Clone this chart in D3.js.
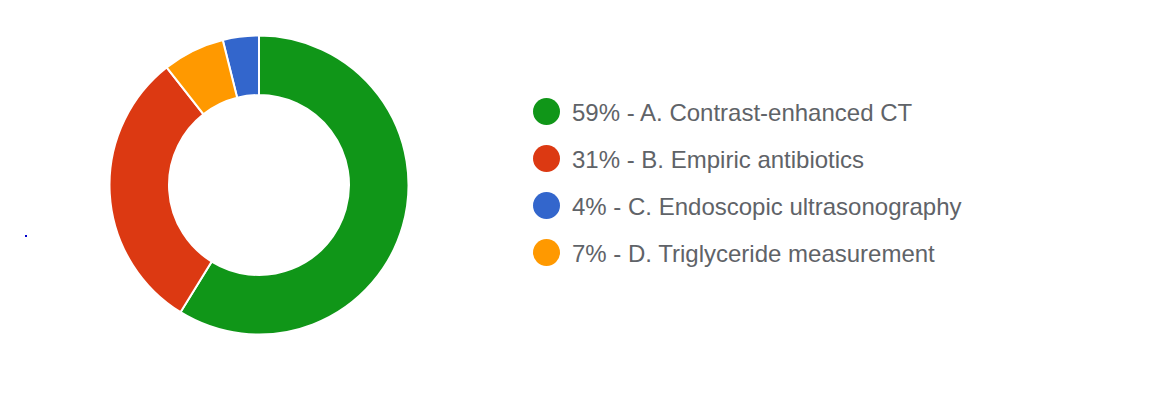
<!DOCTYPE html>
<html><head><meta charset="utf-8">
<script src="https://cdn.jsdelivr.net/npm/d3@7"></script>
<style>html,body{margin:0;padding:0;background:#fff;}svg{display:block;}</style>
</head><body>
<svg id="chart" width="1175" height="395"></svg>
<script>
// Data (order as drawn, clockwise from 12 o'clock)
const categories = ["A. Contrast-enhanced CT", "B. Empiric antibiotics", "C. Endoscopic ultrasonography", "D. Triglyceride measurement"];
const shares = [58.8, 30.6, 3.9, 6.7];
const colors = ["#109618", "#dc3912", "#3366cc", "#ff9900"];

const svg = d3.select("#chart");
const cx = 259, cy = 185, rOuter = 149.5, rInner = 90;

const data = categories.map((c, i) => ({cat: c, value: shares[i], color: colors[i], idx: i}));
const total = d3.sum(shares);

// Google-style: sorted by value descending, clockwise from top
const pie = d3.pie().value(d => d.value).sort((a, b) => b.value - a.value);
const arc = d3.arc().innerRadius(rInner).outerRadius(rOuter);

const g = svg.append("g").attr("transform", `translate(${cx},${cy})`);
g.selectAll("path").data(pie(data)).join("path")
  .attr("d", arc)
  .attr("fill", d => d.data.color)
  .attr("stroke", "#fff")
  .attr("stroke-width", 2);

// Legend (in category order)
const legendY = d3.scalePoint().domain(categories).range([111.5, 252.5]);
const lg = svg.append("g");
const items = lg.selectAll("g").data(data).join("g")
  .attr("transform", d => `translate(0,${legendY(d.cat)})`);
items.append("circle").attr("cx", 546.5).attr("cy", 0).attr("r", 13.5).attr("fill", d => d.color);
items.append("text")
  .attr("x", 572).attr("y", 9.5)
  .attr("font-family", "Arial, 'Liberation Sans', sans-serif")
  .attr("font-size", 24)
  .attr("fill", "#5f6368")
  .text(d => `${Math.round(d.value / total * 100)}% - ${d.cat}`);

// tiny stray marker seen in reference
svg.append("rect").attr("x", 25).attr("y", 235).attr("width", 2).attr("height", 2).attr("fill", "#0000cc");
</script>
</body></html>
